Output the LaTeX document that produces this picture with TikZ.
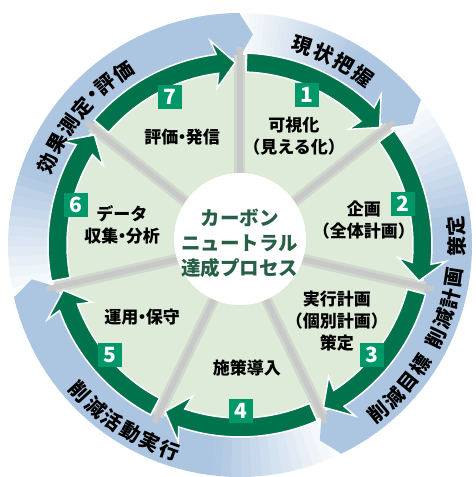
\documentclass[tikz,border=0pt]{standalone}
\usepackage{fontspec}
\setmainfont{Noto Sans CJK JP}
\usetikzlibrary{calc}
\definecolor{dgreen}{RGB}{0,114,76}
\definecolor{bgreen}{RGB}{0,152,104}
\definecolor{lgreen}{RGB}{221,235,216}
\definecolor{bring}{RGB}{172,197,224}
\definecolor{divgray}{RGB}{200,200,200}
\definecolor{divshade}{RGB}{208,216,206}
\definecolor{ctext}{RGB}{38,95,68}
\newcommand\nd{\kern-0.28em・\kern-0.28em}
\tikzset{
  lab/.style={font=\bfseries\fontsize{17}{22}\selectfont, align=center, inner sep=0pt, text=black},
  arclab/.style={font=\bfseries\fontsize{20}{20}\selectfont, inner sep=0pt, text=black},
  numbox/.style={fill=bgreen, text=white, minimum size=24pt, inner sep=0pt, font=\bfseries\fontsize{21}{21}\selectfont},
  arrowsty/.style={fill=dgreen, draw=white, line width=1.5pt, line join=miter},
  ctr/.style={font=\bfseries\fontsize{19.5}{25}\selectfont, align=center, text=ctext, inner sep=0pt},
}
\begin{document}
\begin{tikzpicture}[x=1pt,y=1pt]
\useasboundingbox (-240,-232) rectangle (235,245);
% blue outer ring segments (fading from white to blue, clockwise)
\foreach \A/\B in {90/38.5714, 38.5714/-64.2857, -64.2857/-167.1429, 192.8571/90} {
  \foreach \k in {0,...,39} {
    \pgfmathsetmacro\aa{\A-(\A-\B)*\k/40}
    \pgfmathsetmacro\ac{\aa+0.3*(\k>0)}
    \pgfmathsetmacro\ab{\A-(\A-\B)*(\k+1)/40}
    \pgfmathsetmacro\pct{min(100, 4+96*(\A-\aa)/32)}
    \fill[bring!\pct!white] (\ac:187) arc[start angle=\ac, end angle=\ab, radius=187] -- (\ab:232) arc[start angle=\ab, end angle=\ac, radius=232] -- cycle;
  }
}
% chevron tips
\foreach \B in {38.5714,-64.2857,-167.1429,90} {
  \fill[bring] (\B+0.2:187) -- (\B+0.2:232) -- (\B-3.5:211) -- cycle;
}
% light green disc
\fill[lgreen] (0,0) circle[radius=178];
% dividers
\foreach \i in {0,...,6} {
  \pgfmathsetmacro\d{90-\i*360/7}
  \draw[divshade, line width=11pt] (\d:60) -- (\d:190);
  \draw[divgray, line width=5.5pt] (\d:60) -- (\d:198);
}
% white centre
\fill[white] (0,6) circle[radius=66];
% green arrows
\foreach \i in {1,...,7} {
  \pgfmathsetmacro\s{90-(\i-1)*360/7-2}
  \pgfmathsetmacro\t{90-\i*360/7+1.5}
  \pgfmathsetmacro\b{\t+5.6}
  \pgfmathsetmacro\bb{\b+1.2}
  \draw[arrowsty] (\s:192) arc[start angle=\s, end angle=\b, radius=192] -- (\bb:206.5) -- (\t:182.5) -- (\bb:158.5) -- (\b:173) arc[start angle=\b, end angle=\s, radius=173] -- cycle;
}
% number boxes
\node[numbox] (n1) at (67,150) {1};
\node[numbox] (n2) at (163,41) {2};
\node[numbox] (n3) at (132,-110) {3};
\node[numbox] (n4) at (1,-166) {4};
\node[numbox] (n5) at (-130,-110) {5};
\node[numbox] (n6) at (-164,40) {6};
\node[numbox] (n7) at (-70,148) {7};
% sector labels
\node[lab] (l1) at (54,109) {可視化\\（見える化）};
\node[lab] (l2) at (124,25) {企画\\（全体計画）};
\node[lab] (l3) at (97,-76) {実行計画\\（個別計画）\\策定};
\node[lab] (l4) at (7,-123) {施策導入};
\node[lab] (l5) at (-98,-72) {運用\nd 保守};
\node[lab] (l6) at (-118,20.5) {データ\\収集\nd 分析};
\node[lab] (l7) at (-58,108) {評価\nd 発信};
% centre text
\node[ctr] (centre) at (0,1.5) {カーボン\\ニュートラル\\達成プロセス};
% arc labels, tops outward
\foreach \c/\a [count=\i, evaluate=\a as \r using \a-90] in {現/72.6, 状/66.4, 把/60.2, 握/54} {
  \node[arclab, rotate=\r] (ga\i) at (\a:209) {\c};
}
\foreach \c/\a [count=\i, evaluate=\a as \r using \a-90] in {効/157, 果/151, 測/145, 定/139, ・/134.5, 評/130, 価/124} {
  \node[arclab, rotate=\r] (gd\i) at (\a:209) {\c};
}
% arc labels, tops inward
\foreach \c/\a [count=\i, evaluate=\a as \r using \a+90] in {削/-50.5, 減/-44.9, 目/-39.3, 標/-33.7, 削/-25.5, 減/-19.9, 計/-14.3, 画/-8.7, 策/-0.5, 定/5.1} {
  \node[arclab, rotate=\r] (gb\i) at (\a:217) {\c};
}
\foreach \c/\a [count=\i, evaluate=\a as \r using \a+90] in {削/-137.4, 減/-131.7, 活/-126, 動/-120.3, 実/-114.6, 行/-108.9} {
  \node[arclab, rotate=\r] (gc\i) at (\a:217) {\c};
}
\end{tikzpicture}
\end{document}
